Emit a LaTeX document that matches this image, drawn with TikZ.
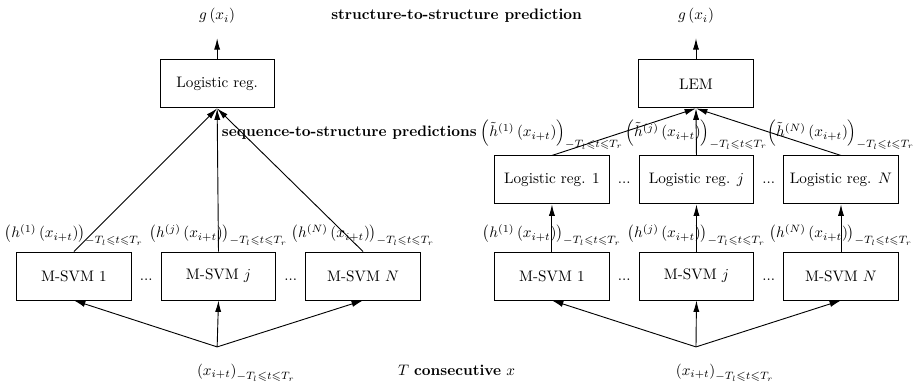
\documentclass[tikz,border=0pt]{standalone}
\usepackage{amsmath}
\usepackage{amssymb}
\usepackage{mathtools}
\usetikzlibrary{positioning,arrows.meta}
\newcommand{\trange}{-T_l\leqslant t\leqslant T_r}

\begin{document}
\begin{tikzpicture}[
        node distance = 0.68cm,
        >={Latex[length=7.5pt,width=4pt]},
        line width=0.6pt,
        box/.style={draw=black, rectangle, minimum width=2.64cm, minimum height=1.11cm},
        lbl/.style={inner sep=0pt, font=\fontsize{9.6}{11.5}\selectfont}]
        \useasboundingbox (0,0) rectangle (21.13,-8.90);
        % NODES
        % left: M-SVM row
        \node[box] (S1) at (1.71,-6.38) {M-SVM 1};
        \node[box, right = of S1] (Sj) {M-SVM $j$};
        \node[box, right = of Sj] (SN) {M-SVM $N$};
        \path (S1.base east) -- (Sj.base west) node[midway, anchor=base] (dS1) {...};
        \path (Sj.base east) -- (SN.base west) node[midway, anchor=base] (dS2) {...};
        % left: outputs of the M-SVMs
        \node[lbl, above = 1.3mm of S1] (h1) {$\left(h^{(1)}\left(x_{i+t}\right)\right)_{\trange}$};
        \node[lbl, above = 1.3mm of Sj] (hj) {$\left(h^{(j)}\left(x_{i+t}\right)\right)_{\trange}$};
        \node[lbl, above = 1.3mm of SN] (hN) {$\left(h^{(N)}\left(x_{i+t}\right)\right)_{\trange}$};
        % left: combiner and output
        \node[box] (L0) at (5.02,-1.94) {Logistic reg.};
        \node (g0) at (5.02,-0.37) {$g\left(x_i\right)$};
        % left: input window
        \node (x0) at (5.02,-8.62) {$\left(x_{i+t}\right)_{\mathrlap{\trange}}$};
        \coordinate (f0) at (5.02,-8.02);

        % right: M-SVM row
        \node[box] (R1) at (12.76,-6.38) {M-SVM 1};
        \node[box, right = of R1] (Rj) {M-SVM $j$};
        \node[box, right = of Rj] (RN) {M-SVM $N$};
        \path (R1.base east) -- (Rj.base west) node[midway, anchor=base] (dR1) {...};
        \path (Rj.base east) -- (RN.base west) node[midway, anchor=base] (dR2) {...};
        \node[lbl, above = 1.3mm of R1] (k1) {$\left(h^{(1)}\left(x_{i+t}\right)\right)_{\trange}$};
        \node[lbl, above = 1.3mm of Rj] (kj) {$\left(h^{(j)}\left(x_{i+t}\right)\right)_{\trange}$};
        \node[lbl, above = 1.3mm of RN] (kN) {$\left(h^{(N)}\left(x_{i+t}\right)\right)_{\trange}$};
        % right: logistic regressions
        \node[box] (Q1) at (12.76,-4.16) {Logistic reg. 1};
        \node[box, right = of Q1] (Qj) {Logistic reg. $j$};
        \node[box, right = of Qj] (QN) {Logistic reg. $N$};
        \path (Q1.base east) -- (Qj.base west) node[midway, anchor=base] (dQ1) {...};
        \path (Qj.base east) -- (QN.base west) node[midway, anchor=base] (dQ2) {...};
        \node[lbl, above = 1.3mm of Q1] (t1) {$\Bigl(\tilde{h}^{(1)}\left(x_{i+t}\right)\Bigr)_{\trange}$};
        \node[lbl, above = 1.3mm of Qj] (tj) {$\Bigl(\tilde{h}^{(j)}\left(x_{i+t}\right)\Bigr)_{\trange}$};
        \node[lbl, above = 1.3mm of QN] (tN) {$\Bigl(\tilde{h}^{(N)}\left(x_{i+t}\right)\Bigr)_{\trange}$};
        % right: LEM and output
        \node[box] (L1) at (16.09,-1.94) {LEM};
        \node (g1) at (16.09,-0.37) {$g\left(x_i\right)$};
        \node (x1) at (16.09,-8.62) {$\left(x_{i+t}\right)_{\mathrlap{\trange}}$};
        \coordinate (f1) at (16.09,-8.02);

        % level captions
        \path (g0) -- (g1) node[midway] (cTop) {\textbf{structure-to-structure prediction}};
        \node[anchor=base east, inner xsep=2pt] (cMid) at (t1.base west) {\textbf{sequence-to-structure predictions}};
        \path (x0.base) -- (x1.base) node[midway, anchor=base] (cBot) {$T$ \textbf{consecutive} $x$};

        % ARROWS
        \foreach \s in {S1,Sj,SN} {
            \draw[->] (f0) -- (\s.south);
            \draw[->] (\s.north) -- (L0.south);
        }
        \draw[->, shorten >=6pt] (L0) -- (g0);
        \foreach \s/\q in {R1/Q1,Rj/Qj,RN/QN} {
            \draw[->] (f1) -- (\s.south);
            \draw[->] (\s) -- (\q);
            \draw[->] (\q.north) -- (L1.south);
        }
        \draw[->, shorten >=6pt] (L1) -- (g1);
    \end{tikzpicture}
\end{document}
